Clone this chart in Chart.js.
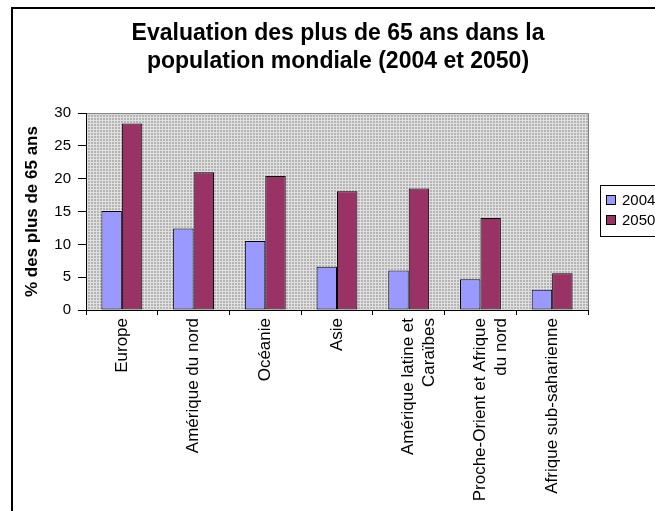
<!DOCTYPE html>
<html>
<head>
<meta charset="utf-8">
<script src="https://cdn.jsdelivr.net/npm/chart.js@4"></script>
<style>
  html, body { margin: 0; padding: 0; background: #fff; }
  #wrap { position: relative; width: 655px; height: 511px; }
</style>
</head>
<body>
<div id="wrap"><canvas id="myChart" width="655" height="511"></canvas></div>
<script>
const regions = [
  "Europe",
  "Amérique du nord",
  "Océanie",
  "Asie",
  ["Amérique latine et", "Caraïbes"],
  ["Proche-Orient et Afrique", "du nord"],
  "Afrique sub-saharienne",
];
const values2004 = [15.1, 12.4, 10.5, 6.6, 6.0, 4.7, 3.1];
const values2050 = [28.4, 21.0, 20.4, 18.1, 18.5, 14.0, 5.6];
const seriesNames = ["2004", "2050"];
const seriesColors = ["#9999ff", "#993366"];

const FONT = "Arial, 'Liberation Sans', sans-serif";

// grey dotted fill like the old Excel plot area
function plotPattern(ctx) {
  const c = document.createElement("canvas");
  c.width = 3; c.height = 3;
  const p = c.getContext("2d");
  p.fillStyle = "#b4b4b4";
  p.fillRect(0, 0, 3, 3);
  p.fillStyle = "#e0e0e0";
  p.fillRect(0, 0, 3, 1);
  p.fillRect(0, 0, 1, 3);
  return ctx.createPattern(c, "repeat");
}

const frame = {
  id: "frame",
  beforeDraw(chart) {
    const { ctx, chartArea: a } = chart;
    ctx.save();
    ctx.fillStyle = "#fff";
    ctx.fillRect(0, 0, chart.width, chart.height);
    ctx.fillStyle = plotPattern(ctx);
    ctx.fillRect(a.left, a.top, a.right - a.left, a.bottom - a.top);
    ctx.strokeStyle = "#808080";
    ctx.lineWidth = 1;
    ctx.strokeRect(a.left + 0.5, a.top + 0.5, a.right - a.left, a.bottom - a.top);
    ctx.restore();
  },
  afterDraw(chart) {
    const { ctx } = chart;
    ctx.save();
    // outer chart border
    ctx.strokeStyle = "#000";
    ctx.lineWidth = 2;
    ctx.strokeRect(12, 8, chart.width + 10, chart.height + 10);
    // legend
    const lx = 600, ly = 185;
    ctx.lineWidth = 1;
    ctx.fillStyle = "#fff";
    ctx.fillRect(lx, ly, 80, 51);
    ctx.strokeRect(lx + 0.5, ly + 0.5, 80, 51);
    ctx.font = "15px " + FONT;
    ctx.textBaseline = "middle";
    seriesNames.forEach((name, i) => {
      const y = ly + 15 + i * 20;
      ctx.fillStyle = seriesColors[i];
      ctx.fillRect(lx + 6, y - 5, 10, 10);
      ctx.strokeStyle = "#000";
      ctx.strokeRect(lx + 6.5, y - 4.5, 9, 9);
      ctx.fillStyle = "#000";
      ctx.fillText(name, lx + 22, y + 1);
    });
    ctx.restore();
  },
};

const ctx = document.getElementById("myChart").getContext("2d");
const chart = new Chart(ctx, {
  type: "bar",
  data: {
    labels: regions,
    datasets: [
      {
        label: seriesNames[0],
        data: values2004,
        backgroundColor: seriesColors[0],
        borderColor: "#000",
        borderWidth: 1,
        borderSkipped: false,
      },
      {
        label: seriesNames[1],
        data: values2050,
        backgroundColor: seriesColors[1],
        borderColor: "#000",
        borderWidth: 1,
        borderSkipped: false,
      },
    ],
  },
  plugins: [frame],
  options: {
    responsive: false,
    animation: false,
    devicePixelRatio: 1,
    layout: { padding: { left: 21, right: 0, top: 0, bottom: 0 } },
    categoryPercentage: 0.57,
    barPercentage: 1,
    plugins: {
      legend: { display: false },
      tooltip: { enabled: false },
      title: {
        display: true,
        text: ["Evaluation des plus de 65 ans dans la", "population mondiale (2004 et 2050)"],
        color: "#000",
        font: { family: FONT, size: 23, weight: "bold", lineHeight: 1.22 },
        padding: { top: 20, bottom: 37 },
      },
    },
    scales: {
      x: {
        afterFit(scale) { scale.height = 201; },
        border: { color: "#000" },
        grid: {
          offset: true,
          drawOnChartArea: false,
          color: "#000",
          tickLength: 5,
        },
        ticks: {
          color: "#000",
          font: { family: FONT, size: 17, lineHeight: 1.2 },
          maxRotation: 90,
          minRotation: 90,
          padding: 3,
          autoSkip: false,
        },
      },
      y: {
        min: 0,
        max: 30,
        afterFit(scale) { scale.width = 65; },
        border: { color: "#000" },
        grid: {
          drawOnChartArea: false,
          color: "#000",
          tickLength: 8,
        },
        ticks: {
          stepSize: 5,
          color: "#000",
          font: { family: FONT, size: 15 },
          padding: 7,
        },
        title: {
          display: true,
          text: "% des plus de 65 ans",
          color: "#000",
          font: { family: FONT, size: 17, weight: "bold" },
          padding: { top: 1 },
        },
      },
      // empty right-hand space where the legend sits
      side: {
        position: "right",
        min: 0,
        max: 1,
        afterFit(scale) { scale.width = 67; },
        border: { display: false },
        grid: { display: false },
        ticks: { display: false },
      },
    },
  },
});
</script>
</body>
</html>
